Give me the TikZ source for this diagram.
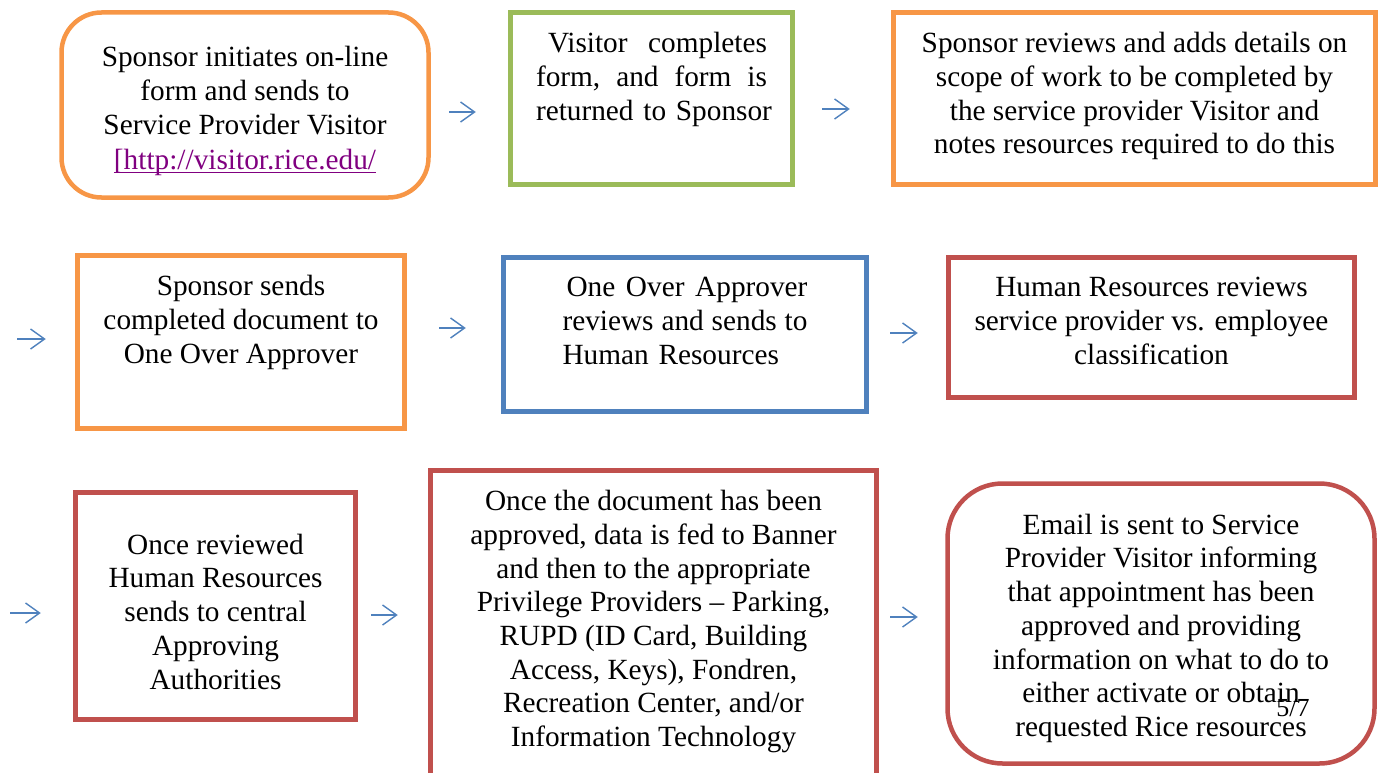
\documentclass[tikz,border=0pt]{standalone}
\usepackage{fontspec}
\setmainfont{Liberation Serif}
\usepackage{xcolor}
\usepackage{tikz}
\usetikzlibrary{arrows.meta, positioning}
\definecolor{accorange}{HTML}{F79646}
\definecolor{accgreen}{HTML}{9BBB59}
\definecolor{accblue}{HTML}{4F81BD}
\definecolor{accred}{HTML}{C0504D}
\definecolor{linkpurple}{HTML}{800080}
\newsavebox\linkbox
\newcommand{\linkul}[1]{\sbox\linkbox{#1}\rlap{\rule[-3.5pt]{\wd\linkbox}{1.3pt}}\usebox\linkbox}
\tikzset{%
	box/.style={draw, rectangle, line width=4.5pt, inner sep=0mm},
	rbox/.style={box, rounded corners=40pt},
	txt/.style={inner sep=0mm, align=center, font=\fontsize{29.3}{33.7}\selectfont},
	flow/.style={-{Straight Barb[length=14pt, width=20pt]}, line width=1.4pt, draw=accblue}
}
\begin{document}
\begin{tikzpicture}[x=1pt, y=-1pt]
	\useasboundingbox (0,0) rectangle (1379,773);
	\clip (0,0) rectangle (1379,773);

	% row 1
	\node[rbox, draw=accorange, minimum width=367pt, minimum height=185pt] (b1) at (245,105) {};
	\node[box, draw=accgreen, minimum width=282pt, minimum height=172pt] (b2) at (651.5,98.5) {};
	\node[box, draw=accorange, minimum width=482pt, minimum height=172pt] (b3) at (1134.5,98.5) {};

	% row 2
	\node[box, draw=accorange, minimum width=327pt, minimum height=173pt] (b4) at (241,342) {};
	\node[box, draw=accblue, minimum width=363pt, minimum height=154pt] (b5) at (685,334.5) {};
	\node[box, draw=accred, minimum width=406pt, minimum height=140pt] (b6) at (1151.5,327.5) {};

	% row 3
	\node[box, draw=accred, minimum width=280pt, minimum height=227pt] (b7) at (215.5,606) {};
	\node[box, draw=accred, minimum width=446pt, minimum height=330pt] (b8) at (653.5,635.5) {};
	\node[rbox, rounded corners=55pt, draw=accred, minimum width=427pt, minimum height=280pt] (b9) at (1161,623.5) {};

	% texts
	\node[txt, below=36pt of b1.north] (t1) {Sponsor initiates on-line\\form and sends to\\Service Provider Visitor\\[2pt]{\color{linkpurple}\linkul{[http://visitor.rice.edu/}}};
	\node[txt, align=left, text width=231pt, below=22pt of b2.north] (t2) {\hspace*{12pt}Visitor\hfill completes\\form,\hfill and\hfill form\hfill is\\\mbox{returned to Sponsor}};
	\node[txt, below=22pt of b3.north] (t3) {Sponsor reviews and adds details on\\scope of work to be completed by\\the service provider Visitor and\\notes resources required to do this};
	\node[txt, below=22pt of b4.north] (t4) {Sponsor sends\\completed document to\\One Over Approver};
	\node[txt, align=left, text width=245pt, below=22pt of b5.north] (t5) {\hspace*{4pt}One\hfill Over\hfill Approver\\reviews\hfill and\hfill sends\hfill to\\\mbox{Human Resources}};
	\node[txt, below=22pt of b6.north] (t6) {Human Resources reviews\\service provider vs. employee\\classification};
	\node[txt, below=43.5pt of b7.north] (t7) {Once reviewed\\Human Resources\\sends to central\\Approving\\Authorities};
	\node[txt, below=22pt of b8.north] (t8) {Once the document has been\\approved, data is fed to Banner\\and then to the appropriate\\Privilege Providers – Parking,\\RUPD (ID Card, Building\\Access, Keys), Fondren,\\Recreation Center, and/or\\Information Technology};
	\node[txt, below=32.5pt of b9.north] (t9) {Email is sent to Service\\Provider Visitor informing\\that appointment has been\\approved and providing\\information on what to do to\\either activate or obtain\\requested Rice resources};
	\node[txt, font=\fontsize{26}{30}\selectfont] (pg) at (1293,708) {5/7};

	% arrows
	\draw[flow, shorten <=18.5pt, shorten >=32.5pt] (b1.east |- 0,112) -- (b2.west |- 0,112);
	\draw[flow, shorten <=27.5pt, shorten >=41.5pt] (b2.east |- 0,109) -- (b3.west |- 0,109);
	\coordinate (in2) at (17,339);
	\draw[flow, shorten >=29.5pt] (in2) -- (b4.west |- in2);
	\draw[flow, shorten <=32.5pt, shorten >=35.5pt] (b4.east |- 0,328) -- (b5.west |- 0,328);
	\draw[flow, shorten <=21.5pt, shorten >=28.5pt] (b5.east |- 0,333) -- (b6.west |- 0,333);
	\coordinate (in3) at (10,613);
	\draw[flow, shorten >=32.5pt] (in3) -- (b7.west |- in3);
	\draw[flow, shorten <=13.5pt, shorten >=30.5pt] (b7.east |- 0,615) -- (b8.west |- 0,615);
	\draw[flow, shorten <=11.5pt, shorten >=27.5pt] (b8.east |- 0,617) -- (b9.west |- 0,617);
\end{tikzpicture}
\end{document}
